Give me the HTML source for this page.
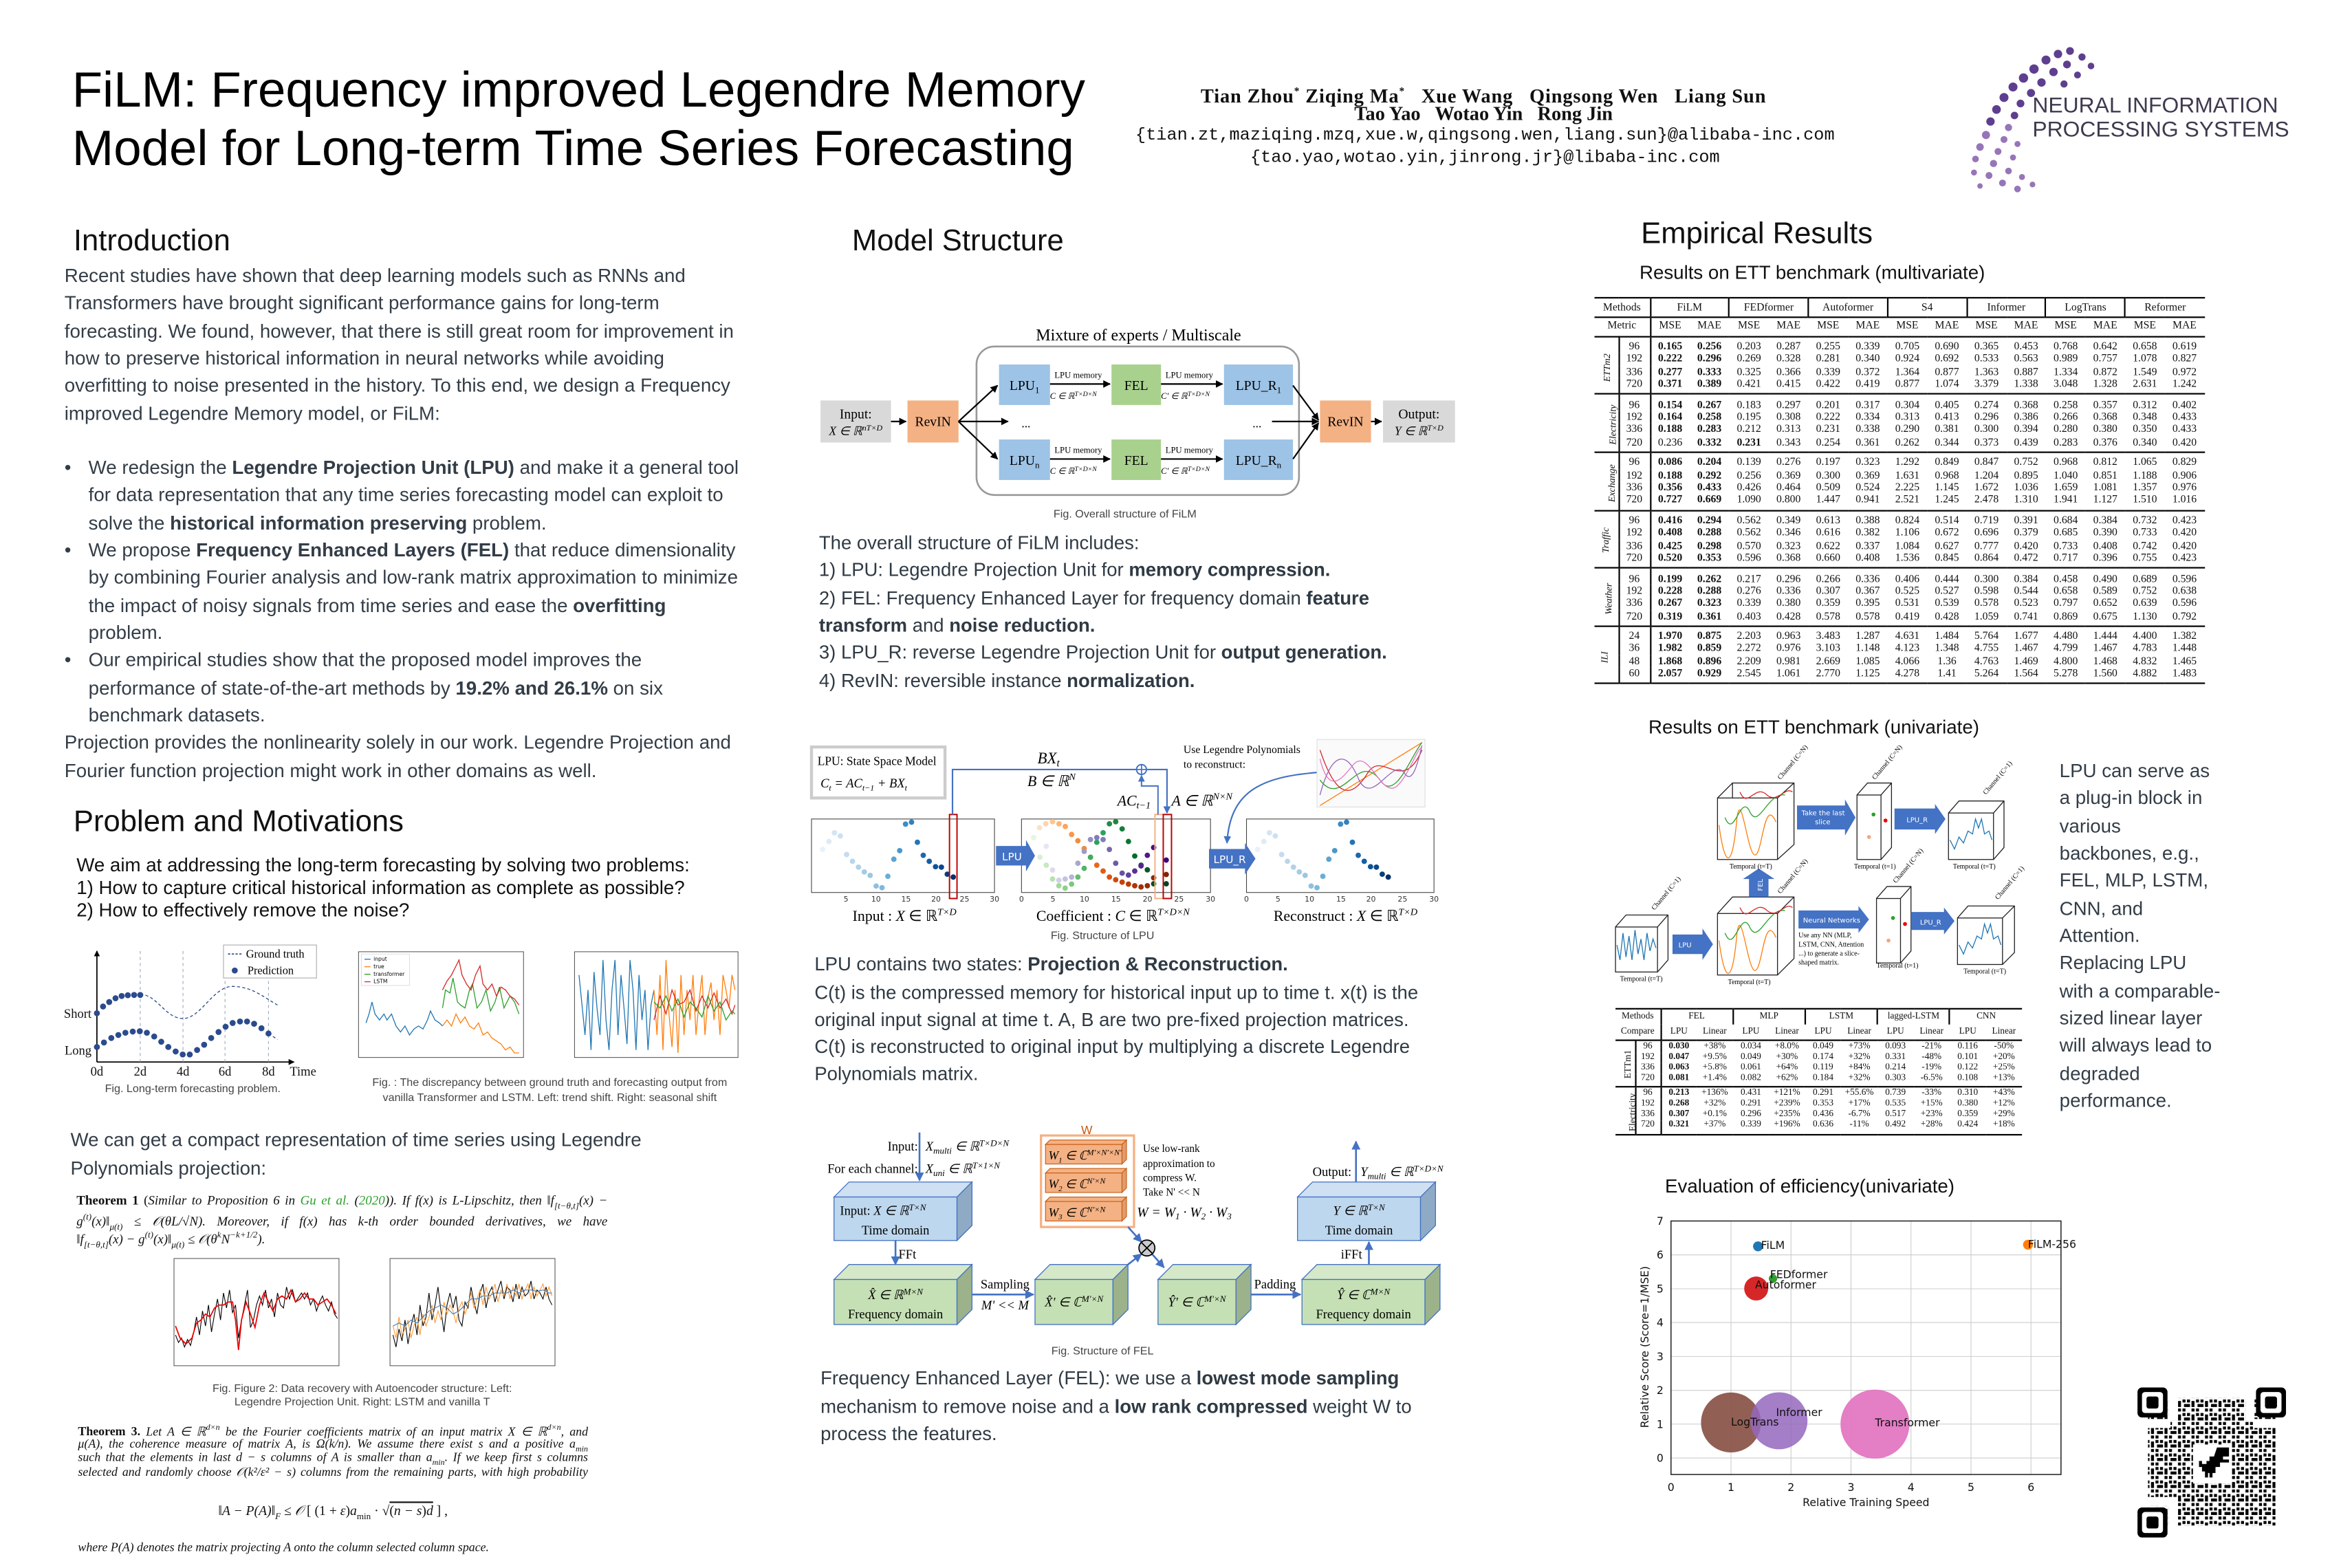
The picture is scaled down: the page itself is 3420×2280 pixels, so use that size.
<!DOCTYPE html>
<html><head><meta charset="utf-8">
<style>
html,body{margin:0;padding:0;background:#fff;}
body{width:3420px;height:2280px;overflow:hidden;position:relative;}
#c{position:absolute;left:0;top:0;width:1568px;height:1045.3px;transform:scale(2.18112);transform-origin:0 0;font-family:"Liberation Sans",Arial,sans-serif;color:#333d47;}
.a{position:absolute;white-space:nowrap;}
.t{font-size:12.7px;line-height:16px;}
.m{font-size:12.6px;line-height:16px;color:#2f3a44;}
.h{font-size:20px;line-height:24px;color:#111;}
.s{font-family:"Liberation Serif",serif;}
.cap{font-size:7.4px;line-height:9px;color:#444;text-align:center;}
table{border-collapse:collapse;font-family:"Liberation Serif",serif;color:#111;}
#mt{position:absolute;left:1063px;top:197.5px;width:406.6px;table-layout:fixed;font-size:7.2px;}
#mt td{padding:0;text-align:center;height:8.33px;line-height:8.33px;white-space:nowrap;overflow:hidden;}
#mt tr.h1 td{height:12.5px;line-height:12.5px;}
#mt tr.h2 td{height:11.8px;line-height:11.8px;}
#mt tr.f td{padding-top:2.3px;}
#mt tr.l td{padding-bottom:2px;}
#mt .g{border-top:0.8px solid #000;}
#mt .vr{border-right:0.7px solid #000;}
#mt .lb{font-style:italic;font-size:6.4px;}
.rot{display:inline-block;transform:rotate(-90deg);white-space:nowrap;}
#st{position:absolute;left:1077px;top:671.5px;width:271px;table-layout:fixed;font-size:6.1px;}
#st td{padding:0;text-align:center;height:7px;line-height:7px;white-space:nowrap;overflow:hidden;}
#st tr.h1 td,#st tr.h2 td{height:10px;line-height:10px;}
#st tr.f td{padding-top:1.3px;}
#st tr.l td{padding-bottom:1.3px;}
#st .g{border-top:0.7px solid #000;}
#st .vr{border-right:0.6px solid #000;}
.th{font-family:"Liberation Serif",serif;font-size:8.7px;line-height:12.2px;color:#111;width:354px;text-align:justify;text-align-last:justify;}
</style></head><body><div id="c">

<!-- Header -->
<div class="a" style="left:48px;top:44px;font-size:33.3px;line-height:34px;color:#000;">FiLM: Frequency improved Legendre Memory</div>
<div class="a" style="left:48px;top:82.5px;font-size:33.3px;line-height:34px;color:#000;">Model for Long-term Time Series Forecasting</div>
<div class="a s" style="left:789px;width:400px;text-align:center;top:53px;font-size:13px;line-height:16px;font-weight:bold;color:#111;letter-spacing:0.4px;">Tian Zhou<sup style="font-size:7px">*</sup> Ziqing Ma<sup style="font-size:7px">*</sup> &nbsp; Xue Wang &nbsp; Qingsong Wen &nbsp; Liang Sun</div>
<div class="a s" style="left:789px;width:400px;text-align:center;top:68px;font-size:13px;line-height:16px;font-weight:bold;color:#111;">Tao Yao &nbsp; Wotao Yin &nbsp; Rong Jin</div>
<div class="a" style="left:740px;width:500px;text-align:center;top:83px;font-family:'Liberation Mono',monospace;font-size:11.6px;line-height:16px;color:#111;">{tian.zt,maziqing.mzq,xue.w,qingsong.wen,liang.sun}@alibaba-inc.com</div>
<div class="a" style="left:740px;width:500px;text-align:center;top:98px;font-family:'Liberation Mono',monospace;font-size:11.6px;line-height:16px;color:#111;">{tao.yao,wotao.yin,jinrong.jr}@libaba-inc.com</div>
<div class="a" style="left:1355px;top:63px;font-size:14.6px;line-height:16px;color:#3f3a4f;">NEURAL INFORMATION</div>
<div class="a" style="left:1355px;top:79px;font-size:14.6px;line-height:16px;color:#3f3a4f;">PROCESSING SYSTEMS</div>

<!-- Intro -->
<div class="a h" style="left:49px;top:149px;">Introduction</div>
<div class="a t" style="left:43px;top:176px;">Recent studies have shown that deep learning models such as RNNs and</div>
<div class="a t" style="left:43px;top:194.4px;">Transformers have brought significant performance gains for long-term</div>
<div class="a t" style="left:43px;top:212.7px;">forecasting. We found, however, that there is still great room for improvement in</div>
<div class="a t" style="left:43px;top:231px;">how to preserve historical information in neural networks while avoiding</div>
<div class="a t" style="left:43px;top:249.4px;">overfitting to noise presented in the history. To this end, we design a Frequency</div>
<div class="a t" style="left:43px;top:267.7px;">improved Legendre Memory model, or FiLM:</div>
<div class="a t" style="left:43px;top:304px;">•</div>
<div class="a t" style="left:59px;top:304px;">We redesign the <b>Legendre Projection Unit (LPU)</b> and make it a general tool</div>
<div class="a t" style="left:59px;top:322.4px;">for data representation that any time series forecasting model can exploit to</div>
<div class="a t" style="left:59px;top:340.7px;">solve the <b>historical information preserving</b> problem.</div>
<div class="a t" style="left:43px;top:359px;">•</div>
<div class="a t" style="left:59px;top:359px;">We propose <b>Frequency Enhanced Layers (FEL)</b> that reduce dimensionality</div>
<div class="a t" style="left:59px;top:377.4px;">by combining Fourier analysis and low-rank matrix approximation to minimize</div>
<div class="a t" style="left:59px;top:395.7px;">the impact of noisy signals from time series and ease the <b>overfitting</b></div>
<div class="a t" style="left:59px;top:414px;">problem.</div>
<div class="a t" style="left:43px;top:432.4px;">•</div>
<div class="a t" style="left:59px;top:432.4px;">Our empirical studies show that the proposed model improves the</div>
<div class="a t" style="left:59px;top:450.7px;">performance of state-of-the-art methods by <b>19.2% and 26.1%</b> on six</div>
<div class="a t" style="left:59px;top:469px;">benchmark datasets.</div>
<div class="a t" style="left:43px;top:487.4px;">Projection provides the nonlinearity solely in our work. Legendre Projection and</div>
<div class="a t" style="left:43px;top:505.7px;">Fourier function projection might work in other domains as well.</div>

<div class="a h" style="left:49px;top:536px;">Problem and Motivations</div>
<div class="a t" style="left:51px;top:569px;color:#111;">We aim at addressing the long-term forecasting by solving two problems:</div>
<div class="a t" style="left:51px;top:584px;color:#111;">1) How to capture critical historical information as complete as possible?</div>
<div class="a t" style="left:51px;top:599px;color:#111;">2) How to effectively remove the noise?</div>
<div class="a cap" style="left:60px;width:137px;top:721px;">Fig. Long-term forecasting problem.</div>
<div class="a cap" style="left:230px;width:273px;top:717px;">Fig. : The discrepancy between ground truth and forecasting output from</div>
<div class="a cap" style="left:230px;width:273px;top:726.5px;">vanilla Transformer and LSTM. Left: trend shift. Right: seasonal shift</div>
<div class="a t" style="left:47px;top:752px;">We can get a compact representation of time series using Legendre</div>
<div class="a t" style="left:47px;top:770.5px;">Polynomials projection:</div>
<div class="a th" style="left:51px;top:794.3px;"><b>Theorem 1</b> (<i>Similar to Proposition 6 in <span style="color:#2ca02c">Gu et al.</span> (<span style="color:#2ca02c">2020</span>)). If f(x) is L-Lipschitz, then ‖f<sub style="font-size:6px">[t−θ,t]</sub>(x) −</i></div>
<div class="a th" style="left:51px;top:806.4px;"><i>g<sup style="font-size:6px">(t)</sup>(x)‖<sub style="font-size:6px">μ(t)</sub> ≤ 𝒪(θL/√N). Moreover, if f(x) has k-th order bounded derivatives, we have</i></div>
<div class="a th" style="left:51px;top:818.6px;text-align-last:left;"><i>‖f<sub style="font-size:6px">[t−θ,t]</sub>(x) − g<sup style="font-size:6px">(t)</sup>(x)‖<sub style="font-size:6px">μ(t)</sub> ≤ 𝒪(θ<sup style="font-size:6px">k</sup>N<sup style="font-size:6px">−k+1/2</sup>).</i></div>
<div class="a cap" style="left:120px;width:243px;top:920.5px;">Fig. Figure 2: Data recovery with Autoencoder structure: Left:</div>
<div class="a cap" style="left:120px;width:243px;top:929.5px;">Legendre Projection Unit. Right: LSTM and vanilla T</div>
<div class="a th" style="left:52px;top:948px;width:340px;font-size:8.2px;line-height:9.5px;"><b>Theorem 3.</b> <i>Let A ∈ ℝ<sup style="font-size:5.5px">d×n</sup> be the Fourier coefficients matrix of an input matrix X ∈ ℝ<sup style="font-size:5.5px">d×n</sup>, and</i></div>
<div class="a th" style="left:52px;top:957.5px;width:340px;font-size:8.2px;line-height:9.5px;"><i>μ(A), the coherence measure of matrix A, is Ω(k/n). We assume there exist s and a positive a<sub style="font-size:5.5px">min</sub></i></div>
<div class="a th" style="left:52px;top:967px;width:340px;font-size:8.2px;line-height:9.5px;"><i>such that the elements in last d − s columns of A is smaller than a<sub style="font-size:5.5px">min</sub>. If we keep first s columns</i></div>
<div class="a th" style="left:52px;top:976.5px;width:340px;font-size:8.2px;line-height:9.5px;"><i>selected and randomly choose 𝒪(k²/ε² − s) columns from the remaining parts, with high probability</i></div>
<div class="a s" style="left:132px;width:180px;text-align:center;top:1001px;font-size:9px;line-height:12px;color:#111;"><i>‖A − P(A)‖<sub style="font-size:6px">F</sub> ≤ 𝒪</i> [ (1 + <i>ε</i>)<i>a</i><sub style="font-size:6px">min</sub> · √<span style="text-decoration:overline">(<i>n − s</i>)<i>d</i></span> ] ,</div>
<div class="a s" style="left:52px;top:1026px;font-size:8.2px;line-height:11px;color:#111;"><i>where P(A) denotes the matrix projecting A onto the column selected column space.</i></div>

<!-- Middle -->
<div class="a h" style="left:568px;top:149px;">Model Structure</div>
<div class="a cap" style="left:680px;width:140px;top:337.5px;">Fig. Overall structure of FiLM</div>
<div class="a m" style="left:546px;top:354px;">The overall structure of FiLM includes:</div>
<div class="a m" style="left:546px;top:372.3px;">1) LPU: Legendre Projection Unit for <b>memory compression.</b></div>
<div class="a m" style="left:546px;top:390.6px;">2) FEL: Frequency Enhanced Layer for frequency domain <b>feature</b></div>
<div class="a m" style="left:546px;top:409px;"><b>transform</b> and <b>noise reduction.</b></div>
<div class="a m" style="left:546px;top:427.3px;">3) LPU_R: reverse Legendre Projection Unit for <b>output generation.</b></div>
<div class="a m" style="left:546px;top:445.6px;">4) RevIN: reversible instance <b>normalization.</b></div>
<div class="a cap" style="left:670px;width:130px;top:618.5px;">Fig. Structure of LPU</div>
<div class="a m" style="left:543px;top:635px;">LPU contains two states: <b>Projection &amp; Reconstruction.</b></div>
<div class="a m" style="left:543px;top:653.5px;">C(t) is the compressed memory for historical input up to time t. x(t) is the</div>
<div class="a m" style="left:543px;top:672px;">original input signal at time t. A, B are two pre-fixed projection matrices.</div>
<div class="a m" style="left:543px;top:690px;">C(t) is reconstructed to original input by multiplying a discrete Legendre</div>
<div class="a m" style="left:543px;top:708px;">Polynomials matrix.</div>
<div class="a cap" style="left:670px;width:130px;top:895.5px;">Fig. Structure of FEL</div>
<div class="a m" style="left:547px;top:911px;">Frequency Enhanced Layer (FEL): we use a <b>lowest mode sampling</b></div>
<div class="a m" style="left:547px;top:929.5px;">mechanism to remove noise and a <b>low rank compressed</b> weight W to</div>
<div class="a m" style="left:547px;top:948px;">process the features.</div>

<!-- Right -->
<div class="a h" style="left:1094px;top:144px;">Empirical Results</div>
<div class="a t" style="left:1093px;top:174px;color:#111;">Results on ETT benchmark (multivariate)</div>
<div class="a t" style="left:1099px;top:477px;color:#111;">Results on ETT benchmark (univariate)</div>
<div class="a t" style="left:1110px;top:783px;color:#111;">Evaluation of efficiency(univariate)</div>
<div class="a t" style="left:1373px;top:506px;">LPU can serve as</div>
<div class="a t" style="left:1373px;top:524.3px;">a plug-in block in</div>
<div class="a t" style="left:1373px;top:542.6px;">various</div>
<div class="a t" style="left:1373px;top:561px;">backbones, e.g.,</div>
<div class="a t" style="left:1373px;top:579.3px;">FEL, MLP, LSTM,</div>
<div class="a t" style="left:1373px;top:597.6px;">CNN, and</div>
<div class="a t" style="left:1373px;top:616px;">Attention.</div>
<div class="a t" style="left:1373px;top:634.3px;">Replacing LPU</div>
<div class="a t" style="left:1373px;top:652.6px;">with a comparable-</div>
<div class="a t" style="left:1373px;top:671px;">sized linear layer</div>
<div class="a t" style="left:1373px;top:689.3px;">will always lead to</div>
<div class="a t" style="left:1373px;top:707.6px;">degraded</div>
<div class="a t" style="left:1373px;top:726px;">performance.</div>

<table id="mt">
<colgroup><col style="width:16px"><col style="width:21px"><col span="14" style="width:26.4px"></colgroup>
<tr class="h1" style="border-top:1.3px solid #000"><td colspan="2" class="vr">Methods</td><td colspan="2" class="vr">FiLM</td><td colspan="2" class="vr">FEDformer</td><td colspan="2" class="vr">Autoformer</td><td colspan="2" class="vr">S4</td><td colspan="2" class="vr">Informer</td><td colspan="2" class="vr">LogTrans</td><td colspan="2">Reformer</td></tr>
<tr class="h2 g"><td colspan="2" class="vr g">Metric</td><td class="g">MSE</td><td class="g">MAE</td><td class="g">MSE</td><td class="g">MAE</td><td class="g">MSE</td><td class="g">MAE</td><td class="g">MSE</td><td class="g">MAE</td><td class="g">MSE</td><td class="g">MAE</td><td class="g">MSE</td><td class="g">MAE</td><td class="g">MSE</td><td class="g">MAE</td></tr>
<tr class="f"><td rowspan="4" class="vr g lb"><span class="rot">ETTm2</span></td><td class="vr g">96</td><td class="g"><b>0.165</b></td><td class="g"><b>0.256</b></td><td class="g">0.203</td><td class="g">0.287</td><td class="g">0.255</td><td class="g">0.339</td><td class="g">0.705</td><td class="g">0.690</td><td class="g">0.365</td><td class="g">0.453</td><td class="g">0.768</td><td class="g">0.642</td><td class="g">0.658</td><td class="g">0.619</td></tr>
<tr><td class="vr">192</td><td><b>0.222</b></td><td><b>0.296</b></td><td>0.269</td><td>0.328</td><td>0.281</td><td>0.340</td><td>0.924</td><td>0.692</td><td>0.533</td><td>0.563</td><td>0.989</td><td>0.757</td><td>1.078</td><td>0.827</td></tr>
<tr><td class="vr">336</td><td><b>0.277</b></td><td><b>0.333</b></td><td>0.325</td><td>0.366</td><td>0.339</td><td>0.372</td><td>1.364</td><td>0.877</td><td>1.363</td><td>0.887</td><td>1.334</td><td>0.872</td><td>1.549</td><td>0.972</td></tr>
<tr class="l"><td class="vr">720</td><td><b>0.371</b></td><td><b>0.389</b></td><td>0.421</td><td>0.415</td><td>0.422</td><td>0.419</td><td>0.877</td><td>1.074</td><td>3.379</td><td>1.338</td><td>3.048</td><td>1.328</td><td>2.631</td><td>1.242</td></tr>
<tr class="f"><td rowspan="4" class="vr g lb"><span class="rot">Electricity</span></td><td class="vr g">96</td><td class="g"><b>0.154</b></td><td class="g"><b>0.267</b></td><td class="g">0.183</td><td class="g">0.297</td><td class="g">0.201</td><td class="g">0.317</td><td class="g">0.304</td><td class="g">0.405</td><td class="g">0.274</td><td class="g">0.368</td><td class="g">0.258</td><td class="g">0.357</td><td class="g">0.312</td><td class="g">0.402</td></tr>
<tr><td class="vr">192</td><td><b>0.164</b></td><td><b>0.258</b></td><td>0.195</td><td>0.308</td><td>0.222</td><td>0.334</td><td>0.313</td><td>0.413</td><td>0.296</td><td>0.386</td><td>0.266</td><td>0.368</td><td>0.348</td><td>0.433</td></tr>
<tr><td class="vr">336</td><td><b>0.188</b></td><td><b>0.283</b></td><td>0.212</td><td>0.313</td><td>0.231</td><td>0.338</td><td>0.290</td><td>0.381</td><td>0.300</td><td>0.394</td><td>0.280</td><td>0.380</td><td>0.350</td><td>0.433</td></tr>
<tr class="l"><td class="vr">720</td><td>0.236</td><td><b>0.332</b></td><td><b>0.231</b></td><td>0.343</td><td>0.254</td><td>0.361</td><td>0.262</td><td>0.344</td><td>0.373</td><td>0.439</td><td>0.283</td><td>0.376</td><td>0.340</td><td>0.420</td></tr>
<tr class="f"><td rowspan="4" class="vr g lb"><span class="rot">Exchange</span></td><td class="vr g">96</td><td class="g"><b>0.086</b></td><td class="g"><b>0.204</b></td><td class="g">0.139</td><td class="g">0.276</td><td class="g">0.197</td><td class="g">0.323</td><td class="g">1.292</td><td class="g">0.849</td><td class="g">0.847</td><td class="g">0.752</td><td class="g">0.968</td><td class="g">0.812</td><td class="g">1.065</td><td class="g">0.829</td></tr>
<tr><td class="vr">192</td><td><b>0.188</b></td><td><b>0.292</b></td><td>0.256</td><td>0.369</td><td>0.300</td><td>0.369</td><td>1.631</td><td>0.968</td><td>1.204</td><td>0.895</td><td>1.040</td><td>0.851</td><td>1.188</td><td>0.906</td></tr>
<tr><td class="vr">336</td><td><b>0.356</b></td><td><b>0.433</b></td><td>0.426</td><td>0.464</td><td>0.509</td><td>0.524</td><td>2.225</td><td>1.145</td><td>1.672</td><td>1.036</td><td>1.659</td><td>1.081</td><td>1.357</td><td>0.976</td></tr>
<tr class="l"><td class="vr">720</td><td><b>0.727</b></td><td><b>0.669</b></td><td>1.090</td><td>0.800</td><td>1.447</td><td>0.941</td><td>2.521</td><td>1.245</td><td>2.478</td><td>1.310</td><td>1.941</td><td>1.127</td><td>1.510</td><td>1.016</td></tr>
<tr class="f"><td rowspan="4" class="vr g lb"><span class="rot">Traffic</span></td><td class="vr g">96</td><td class="g"><b>0.416</b></td><td class="g"><b>0.294</b></td><td class="g">0.562</td><td class="g">0.349</td><td class="g">0.613</td><td class="g">0.388</td><td class="g">0.824</td><td class="g">0.514</td><td class="g">0.719</td><td class="g">0.391</td><td class="g">0.684</td><td class="g">0.384</td><td class="g">0.732</td><td class="g">0.423</td></tr>
<tr><td class="vr">192</td><td><b>0.408</b></td><td><b>0.288</b></td><td>0.562</td><td>0.346</td><td>0.616</td><td>0.382</td><td>1.106</td><td>0.672</td><td>0.696</td><td>0.379</td><td>0.685</td><td>0.390</td><td>0.733</td><td>0.420</td></tr>
<tr><td class="vr">336</td><td><b>0.425</b></td><td><b>0.298</b></td><td>0.570</td><td>0.323</td><td>0.622</td><td>0.337</td><td>1.084</td><td>0.627</td><td>0.777</td><td>0.420</td><td>0.733</td><td>0.408</td><td>0.742</td><td>0.420</td></tr>
<tr class="l"><td class="vr">720</td><td><b>0.520</b></td><td><b>0.353</b></td><td>0.596</td><td>0.368</td><td>0.660</td><td>0.408</td><td>1.536</td><td>0.845</td><td>0.864</td><td>0.472</td><td>0.717</td><td>0.396</td><td>0.755</td><td>0.423</td></tr>
<tr class="f"><td rowspan="4" class="vr g lb"><span class="rot">Weather</span></td><td class="vr g">96</td><td class="g"><b>0.199</b></td><td class="g"><b>0.262</b></td><td class="g">0.217</td><td class="g">0.296</td><td class="g">0.266</td><td class="g">0.336</td><td class="g">0.406</td><td class="g">0.444</td><td class="g">0.300</td><td class="g">0.384</td><td class="g">0.458</td><td class="g">0.490</td><td class="g">0.689</td><td class="g">0.596</td></tr>
<tr><td class="vr">192</td><td><b>0.228</b></td><td><b>0.288</b></td><td>0.276</td><td>0.336</td><td>0.307</td><td>0.367</td><td>0.525</td><td>0.527</td><td>0.598</td><td>0.544</td><td>0.658</td><td>0.589</td><td>0.752</td><td>0.638</td></tr>
<tr><td class="vr">336</td><td><b>0.267</b></td><td><b>0.323</b></td><td>0.339</td><td>0.380</td><td>0.359</td><td>0.395</td><td>0.531</td><td>0.539</td><td>0.578</td><td>0.523</td><td>0.797</td><td>0.652</td><td>0.639</td><td>0.596</td></tr>
<tr class="l"><td class="vr">720</td><td><b>0.319</b></td><td><b>0.361</b></td><td>0.403</td><td>0.428</td><td>0.578</td><td>0.578</td><td>0.419</td><td>0.428</td><td>1.059</td><td>0.741</td><td>0.869</td><td>0.675</td><td>1.130</td><td>0.792</td></tr>
<tr class="f"><td rowspan="4" class="vr g lb"><span class="rot">ILI</span></td><td class="vr g">24</td><td class="g"><b>1.970</b></td><td class="g"><b>0.875</b></td><td class="g">2.203</td><td class="g">0.963</td><td class="g">3.483</td><td class="g">1.287</td><td class="g">4.631</td><td class="g">1.484</td><td class="g">5.764</td><td class="g">1.677</td><td class="g">4.480</td><td class="g">1.444</td><td class="g">4.400</td><td class="g">1.382</td></tr>
<tr><td class="vr">36</td><td><b>1.982</b></td><td><b>0.859</b></td><td>2.272</td><td>0.976</td><td>3.103</td><td>1.148</td><td>4.123</td><td>1.348</td><td>4.755</td><td>1.467</td><td>4.799</td><td>1.467</td><td>4.783</td><td>1.448</td></tr>
<tr><td class="vr">48</td><td><b>1.868</b></td><td><b>0.896</b></td><td>2.209</td><td>0.981</td><td>2.669</td><td>1.085</td><td>4.066</td><td>1.36</td><td>4.763</td><td>1.469</td><td>4.800</td><td>1.468</td><td>4.832</td><td>1.465</td></tr>
<tr class="l" style="border-bottom:1.3px solid #000"><td class="vr">60</td><td><b>2.057</b></td><td><b>0.929</b></td><td>2.545</td><td>1.061</td><td>2.770</td><td>1.125</td><td>4.278</td><td>1.41</td><td>5.264</td><td>1.564</td><td>5.278</td><td>1.560</td><td>4.882</td><td>1.483</td></tr>
</table>

<table id="st">
<colgroup><col style="width:13px"><col style="width:17px"><col span="10" style="width:24.1px"></colgroup>
<tr class="h1" style="border-top:1px solid #000"><td colspan="2" class="vr">Methods</td><td colspan="2" class="vr">FEL</td><td colspan="2" class="vr">MLP</td><td colspan="2" class="vr">LSTM</td><td colspan="2" class="vr">lagged-LSTM</td><td colspan="2">CNN</td></tr>
<tr class="h2"><td colspan="2" class="vr">Compare</td><td>LPU</td><td>Linear</td><td>LPU</td><td>Linear</td><td>LPU</td><td>Linear</td><td>LPU</td><td>Linear</td><td>LPU</td><td>Linear</td></tr>
<tr class="f"><td rowspan="4" class="vr g"><span class="rot">ETTm1</span></td><td class="vr g">96</td><td class="g"><b>0.030</b></td><td class="g">+38%</td><td class="g">0.034</td><td class="g">+8.0%</td><td class="g">0.049</td><td class="g">+73%</td><td class="g">0.093</td><td class="g">-21%</td><td class="g">0.116</td><td class="g">-50%</td></tr>
<tr><td class="vr">192</td><td><b>0.047</b></td><td>+9.5%</td><td>0.049</td><td>+30%</td><td>0.174</td><td>+32%</td><td>0.331</td><td>-48%</td><td>0.101</td><td>+20%</td></tr>
<tr><td class="vr">336</td><td><b>0.063</b></td><td>+5.8%</td><td>0.061</td><td>+64%</td><td>0.119</td><td>+84%</td><td>0.214</td><td>-19%</td><td>0.122</td><td>+25%</td></tr>
<tr class="l"><td class="vr">720</td><td><b>0.081</b></td><td>+1.4%</td><td>0.082</td><td>+62%</td><td>0.184</td><td>+32%</td><td>0.303</td><td>-6.5%</td><td>0.108</td><td>+13%</td></tr>
<tr class="f"><td rowspan="4" class="vr g"><span class="rot">Electricity</span></td><td class="vr g">96</td><td class="g"><b>0.213</b></td><td class="g">+136%</td><td class="g">0.431</td><td class="g">+121%</td><td class="g">0.291</td><td class="g">+55.6%</td><td class="g">0.739</td><td class="g">-33%</td><td class="g">0.310</td><td class="g">+43%</td></tr>
<tr><td class="vr">192</td><td><b>0.268</b></td><td>+32%</td><td>0.291</td><td>+239%</td><td>0.353</td><td>+17%</td><td>0.535</td><td>+15%</td><td>0.380</td><td>+12%</td></tr>
<tr><td class="vr">336</td><td><b>0.307</b></td><td>+0.1%</td><td>0.296</td><td>+235%</td><td>0.436</td><td>-6.7%</td><td>0.517</td><td>+23%</td><td>0.359</td><td>+29%</td></tr>
<tr class="l" style="border-bottom:1px solid #000"><td class="vr">720</td><td><b>0.321</b></td><td>+37%</td><td>0.339</td><td>+196%</td><td>0.636</td><td>-11%</td><td>0.492</td><td>+28%</td><td>0.424</td><td>+18%</td></tr>
</table>

<svg class="a" style="left:0;top:0" width="1568" height="1045.3" viewBox="0 0 1568 1045.3" font-family="Liberation Serif, serif">
<defs>
<marker id="ar" viewBox="0 0 10 10" refX="9" refY="5" markerWidth="5" markerHeight="5" orient="auto"><path d="M0,0L10,5L0,10z" fill="#4472c4"/></marker>
<marker id="ak" viewBox="0 0 10 10" refX="9" refY="5" markerWidth="5" markerHeight="5" orient="auto"><path d="M0,0L10,5L0,10z" fill="#000"/></marker>
<pattern id="qr" width="9" height="9" patternUnits="userSpaceOnUse"><rect x="0" y="0" width="2" height="2"/><rect x="3" y="0" width="2" height="2"/><rect x="6" y="3" width="2" height="2"/><rect x="0" y="6" width="2" height="2"/><rect x="3" y="3" width="2" height="2"/><rect x="6" y="6" width="2" height="2"/><rect x="3" y="7" width="2" height="2"/><rect x="7" y="0" width="2" height="2"/></pattern>
</defs>

<!-- NeurIPS logo dots -->
<g fill="#5e3f8f">
<circle cx="1380" cy="34" r="2.6"/><circle cx="1372" cy="36" r="2.8"/><circle cx="1388" cy="38" r="2.4"/><circle cx="1364" cy="40" r="3"/><circle cx="1378" cy="43" r="2.6"/><circle cx="1394" cy="44" r="2.2"/><circle cx="1356" cy="46" r="3.1"/><circle cx="1369" cy="48" r="2.8"/><circle cx="1385" cy="50" r="2.3"/><circle cx="1349" cy="52" r="3.1"/><circle cx="1361" cy="55" r="2.8"/><circle cx="1376" cy="56" r="2.4"/><circle cx="1342" cy="58" r="3"/><circle cx="1354" cy="62" r="2.7"/><circle cx="1336" cy="65" r="3"/><circle cx="1347" cy="69" r="2.6"/><circle cx="1331" cy="73" r="2.9"/><circle cx="1343" cy="77" r="2.5"/><circle cx="1327" cy="81" r="2.8"/>
</g>
<g fill="#9675b8">
<circle cx="1339" cy="85" r="2.4"/><circle cx="1324" cy="90" r="2.7"/><circle cx="1336" cy="93" r="2.3"/><circle cx="1320" cy="98" r="2.5"/><circle cx="1332" cy="101" r="2.3"/><circle cx="1345" cy="96" r="2"/><circle cx="1317" cy="106" r="2.2"/><circle cx="1329" cy="109" r="2.4"/><circle cx="1342" cy="105" r="2"/><circle cx="1326" cy="117" r="2.3"/><circle cx="1339" cy="114" r="2.2"/><circle cx="1316" cy="115" r="2"/><circle cx="1335" cy="122" r="2.3"/><circle cx="1348" cy="118" r="2"/><circle cx="1345" cy="126" r="2.2"/><circle cx="1355" cy="123" r="1.9"/><circle cx="1320" cy="124" r="1.8"/>
</g>

<!-- Model structure diagram -->
<text x="759" y="227" font-size="11" text-anchor="middle">Mixture of experts / Multiscale</text>
<rect x="651" y="231" width="215" height="99" rx="12" fill="none" stroke="#999" stroke-width="1.2"/>
<rect x="547" y="267" width="47" height="28" fill="#d9d9d9"/>
<text x="570.5" y="279" font-size="9" text-anchor="middle">Input:</text>
<text x="570.5" y="290" font-size="8" text-anchor="middle" font-style="italic">X ∈ ℝ<tspan font-size="5.5" dy="-3">nT×D</tspan></text>
<rect x="605" y="267" width="34" height="28" fill="#f4b183"/>
<text x="622" y="284" font-size="9" text-anchor="middle">RevIN</text>
<rect x="880" y="267" width="34" height="28" fill="#f4b183"/>
<text x="897" y="284" font-size="9" text-anchor="middle">RevIN</text>
<rect x="922" y="267" width="48" height="28" fill="#d9d9d9"/>
<text x="946" y="279" font-size="9" text-anchor="middle">Output:</text>
<text x="946" y="290" font-size="8" text-anchor="middle" font-style="italic">Y ∈ ℝ<tspan font-size="5.5" dy="-3">T×D</tspan></text>
<g font-size="9" text-anchor="middle">
<rect x="666" y="243" width="34" height="27" fill="#9dc3e6"/><text x="683" y="260">LPU<tspan font-size="6" dy="2">1</tspan></text>
<rect x="741" y="243" width="33" height="27" fill="#a9d18e"/><text x="757.5" y="260">FEL</text>
<rect x="816" y="243" width="46" height="27" fill="#9dc3e6"/><text x="839" y="260">LPU_R<tspan font-size="6" dy="2">1</tspan></text>
<rect x="666" y="293" width="34" height="27" fill="#9dc3e6"/><text x="683" y="310">LPU<tspan font-size="6" dy="2">n</tspan></text>
<rect x="741" y="293" width="33" height="27" fill="#a9d18e"/><text x="757.5" y="310">FEL</text>
<rect x="816" y="293" width="46" height="27" fill="#9dc3e6"/><text x="839" y="310">LPU_R<tspan font-size="6" dy="2">n</tspan></text>
</g>
<g stroke="#000" stroke-width="1" marker-end="url(#ak)">
<line x1="594" y1="281" x2="604" y2="281"/>
<line x1="639" y1="281" x2="665" y2="257"/><line x1="639" y1="281" x2="665" y2="306"/><line x1="639" y1="281" x2="672" y2="281"/>
<line x1="700" y1="256" x2="740" y2="256"/><line x1="774" y1="256" x2="815" y2="256"/>
<line x1="700" y1="306" x2="740" y2="306"/><line x1="774" y1="306" x2="815" y2="306"/>
<line x1="862" y1="257" x2="879" y2="280"/><line x1="862" y1="306" x2="879" y2="282"/><line x1="848" y1="281" x2="879" y2="281"/>
<line x1="914" y1="281" x2="921" y2="281"/>
</g>
<g font-size="5.8">
<text x="703" y="252">LPU memory</text><text x="700" y="266" font-style="italic">C ∈ ℝ<tspan font-size="4.5" dy="-2">T×D×N</tspan></text>
<text x="777" y="252">LPU memory</text><text x="774" y="266" font-style="italic">C′ ∈ ℝ<tspan font-size="4.5" dy="-2">T×D×N</tspan></text>
<text x="703" y="302">LPU memory</text><text x="700" y="316" font-style="italic">C ∈ ℝ<tspan font-size="4.5" dy="-2">T×D×N</tspan></text>
<text x="777" y="302">LPU memory</text><text x="774" y="316" font-style="italic">C′ ∈ ℝ<tspan font-size="4.5" dy="-2">T×D×N</tspan></text>
</g>
<text x="681" y="285" font-size="8">...</text><text x="835" y="285" font-size="8">...</text>

<!-- LPU figure -->
<rect x="541" y="498" width="89" height="34" fill="#fff" stroke="#ccc" stroke-width="2"/>
<text x="545" y="510" font-size="8">LPU: State Space Model</text>
<text x="547" y="525" font-size="8.5" font-style="italic">C<tspan font-size="5.5" dy="2">t</tspan><tspan dy="-2"> = AC</tspan><tspan font-size="5.5" dy="2">t−1</tspan><tspan dy="-2"> + BX</tspan><tspan font-size="5.5" dy="2">t</tspan></text>
<g fill="none" stroke="#444" stroke-width="0.5">
<rect x="541" y="546" width="122" height="49"/><rect x="681" y="546" width="126" height="49"/><rect x="831" y="546" width="125" height="49"/>
</g>
<g font-size="5" fill="#333" text-anchor="middle" font-family="DejaVu Sans, sans-serif">
<text x="564" y="601">5</text><text x="584" y="601">10</text><text x="604" y="601">15</text><text x="624" y="601">20</text><text x="643" y="601">25</text><text x="663" y="601">30</text>
<text x="681" y="601">0</text><text x="702" y="601">5</text><text x="723" y="601">10</text><text x="744" y="601">15</text><text x="765" y="601">20</text><text x="786" y="601">25</text><text x="807" y="601">30</text>
<text x="831" y="601">0</text><text x="852" y="601">5</text><text x="873" y="601">10</text><text x="894" y="601">15</text><text x="914" y="601">20</text><text x="935" y="601">25</text><text x="956" y="601">30</text>
</g>
<g id="d1">
<circle cx="548.4" cy="566.3" r="1.8" fill="#e8f1fa"/><circle cx="552.6" cy="561" r="1.8" fill="#deebf7"/><circle cx="556.3" cy="555.2" r="1.8" fill="#d4e5f4"/><circle cx="560.2" cy="557.3" r="1.8" fill="#cbe0f2"/><circle cx="564.4" cy="569.7" r="1.8" fill="#c6dbef"/><circle cx="568.3" cy="574.2" r="1.8" fill="#bad6eb"/><circle cx="572.3" cy="578.1" r="1.8" fill="#b0d2e8"/><circle cx="576.2" cy="581.3" r="1.8" fill="#a4cce3"/><circle cx="580.1" cy="583.6" r="1.8" fill="#9ac8e0"/><circle cx="584.1" cy="590.7" r="1.8" fill="#8dc1dd"/><circle cx="588" cy="591.8" r="1.8" fill="#7fb9da"/><circle cx="591.9" cy="584.2" r="1.8" fill="#6aaed6"/><circle cx="595.9" cy="572.8" r="1.8" fill="#5ba3d0"/><circle cx="599.8" cy="567.1" r="1.8" fill="#4a98c9"/><circle cx="603.7" cy="549.4" r="1.8" fill="#3d8dc4"/><circle cx="607.7" cy="548.1" r="1.8" fill="#3181bd"/><circle cx="611.6" cy="561.5" r="1.8" fill="#2474b7"/><circle cx="615.5" cy="570.2" r="1.8" fill="#1c68ae"/><circle cx="619.5" cy="574.2" r="1.8" fill="#135fa7"/><circle cx="623.7" cy="577.8" r="1.8" fill="#0d539a"/><circle cx="627.6" cy="578.1" r="1.8" fill="#08488e"/><circle cx="631.5" cy="582.8" r="1.8" fill="#083d7f"/><circle cx="635.5" cy="584.7" r="1.8" fill="#08306b"/>
</g>
<g transform="translate(290,0)">
<circle cx="548.4" cy="566.3" r="1.8" fill="#e8f1fa"/><circle cx="552.6" cy="561" r="1.8" fill="#deebf7"/><circle cx="556.3" cy="555.2" r="1.8" fill="#d4e5f4"/><circle cx="560.2" cy="557.3" r="1.8" fill="#cbe0f2"/><circle cx="564.4" cy="569.7" r="1.8" fill="#c6dbef"/><circle cx="568.3" cy="574.2" r="1.8" fill="#bad6eb"/><circle cx="572.3" cy="578.1" r="1.8" fill="#b0d2e8"/><circle cx="576.2" cy="581.3" r="1.8" fill="#a4cce3"/><circle cx="580.1" cy="583.6" r="1.8" fill="#9ac8e0"/><circle cx="584.1" cy="590.7" r="1.8" fill="#8dc1dd"/><circle cx="588" cy="591.8" r="1.8" fill="#7fb9da"/><circle cx="591.9" cy="584.2" r="1.8" fill="#6aaed6"/><circle cx="595.9" cy="572.8" r="1.8" fill="#5ba3d0"/><circle cx="599.8" cy="567.1" r="1.8" fill="#4a98c9"/><circle cx="603.7" cy="549.4" r="1.8" fill="#3d8dc4"/><circle cx="607.7" cy="548.1" r="1.8" fill="#3181bd"/><circle cx="611.6" cy="561.5" r="1.8" fill="#2474b7"/><circle cx="615.5" cy="570.2" r="1.8" fill="#1c68ae"/><circle cx="619.5" cy="574.2" r="1.8" fill="#135fa7"/><circle cx="623.7" cy="577.8" r="1.8" fill="#0d539a"/><circle cx="627.6" cy="578.1" r="1.8" fill="#08488e"/><circle cx="631.5" cy="582.8" r="1.8" fill="#083d7f"/><circle cx="635.5" cy="584.7" r="1.8" fill="#08306b"/>
</g>
<g fill="#f08c3c">
<circle cx="693" cy="551.8" r="1.8" fill="#fde0c5"/><circle cx="697.2" cy="549.2" r="1.8" fill="#fdd4ae"/><circle cx="701.7" cy="547.8" r="1.8" fill="#fdc692"/><circle cx="706" cy="549.2" r="1.8" fill="#fdb677"/><circle cx="710.2" cy="551" r="1.8" fill="#fda55e"/><circle cx="714.4" cy="556.3" r="1.8" fill="#fd9446"/><circle cx="718.6" cy="560.5" r="1.8"/><circle cx="722.8" cy="565.7" r="1.8"/><circle cx="727" cy="571.5" r="1.8"/><circle cx="731.2" cy="576.8" r="1.8" fill="#e9671c"/><circle cx="735.4" cy="580.7" r="1.8" fill="#e05c14"/><circle cx="739.6" cy="584.7" r="1.8" fill="#d9530f"/><circle cx="743.8" cy="586.5" r="1.8" fill="#d04a0b"/><circle cx="748.1" cy="588.1" r="1.8" fill="#c54207"/><circle cx="752.3" cy="589.4" r="1.8" fill="#b93b05"/><circle cx="756.5" cy="590.5" r="1.8" fill="#ad3603"/><circle cx="760.7" cy="591.3" r="1.8" fill="#a03103"/><circle cx="764.9" cy="590.5" r="1.8" fill="#952d03"/><circle cx="769.1" cy="585.2" r="1.8" fill="#8a2903"/><circle cx="777.5" cy="583" r="1.8" fill="#7f2704"/>
</g>
<g fill="#2ca25f">
<circle cx="689.1" cy="558.4" r="1.8" fill="#e5f5e0"/><circle cx="693.3" cy="571.5" r="1.8" fill="#d9f0d3"/><circle cx="697.5" cy="576.8" r="1.8" fill="#c7e9c0"/><circle cx="701.7" cy="586" r="1.8" fill="#b6e2ae"/><circle cx="705.9" cy="590.5" r="1.8" fill="#a1d99b"/><circle cx="710.1" cy="592.1" r="1.8" fill="#8ed08b"/><circle cx="714.4" cy="589.4" r="1.8" fill="#7bc87c"/><circle cx="718.6" cy="584.7" r="1.8" fill="#66bd6f"/><circle cx="722.8" cy="578.9" r="1.8" fill="#52b365"/><circle cx="727" cy="571.5" r="1.8" fill="#41ab5d"/><circle cx="731.2" cy="561.5" r="1.8"/><circle cx="735.4" cy="555.2" r="1.8"/><circle cx="739.6" cy="549.2" r="1.8" fill="#238b45"/><circle cx="743.8" cy="547.8" r="1.8" fill="#1d8640"/><circle cx="748.1" cy="552.6" r="1.8" fill="#137d39"/><circle cx="752.3" cy="561" r="1.8" fill="#0a7633"/><circle cx="756.5" cy="570.7" r="1.8" fill="#006d2c"/><circle cx="760.7" cy="576.8" r="1.8" fill="#006428"/><circle cx="764.9" cy="579.9" r="1.8" fill="#005a24"/><circle cx="769.1" cy="589.2" r="1.8" fill="#005020"/><circle cx="777.5" cy="589.2" r="1.8" fill="#00441b"/>
</g>
<g fill="#807dba">
<circle cx="697.5" cy="564.2" r="1.8" fill="#e7e6f2"/><circle cx="701.7" cy="580" r="1.8" fill="#dcdcec"/><circle cx="705.9" cy="586.8" r="1.8" fill="#d0d1e6"/><circle cx="710.1" cy="586" r="1.8" fill="#c2c3df"/><circle cx="714.4" cy="584.7" r="1.8" fill="#b5b5d8"/><circle cx="718.6" cy="575.5" r="1.8" fill="#a8a6cf"/><circle cx="722.8" cy="567.6" r="1.8" fill="#9e9ac8"/><circle cx="727" cy="559.7" r="1.8" fill="#938dc2"/><circle cx="731.2" cy="558.4" r="1.8"/><circle cx="735.4" cy="559.7" r="1.8"/><circle cx="739.6" cy="566.3" r="1.8" fill="#7668ae"/><circle cx="743.8" cy="575.5" r="1.8" fill="#6d59a6"/><circle cx="748.1" cy="582.1" r="1.8" fill="#6a51a3"/><circle cx="752.3" cy="583.4" r="1.8" fill="#61409b"/><circle cx="756.5" cy="580.7" r="1.8" fill="#593093"/><circle cx="760.7" cy="577.3" r="1.8" fill="#54278f"/><circle cx="764.9" cy="570.2" r="1.8" fill="#4d1a89"/><circle cx="769.1" cy="565" r="1.8" fill="#470e83"/><circle cx="777.5" cy="573.4" r="1.8" fill="#3f007d"/>
</g>
<rect x="633" y="543" width="5" height="56" fill="none" stroke="#c00000" stroke-width="0.9"/>
<rect x="770" y="543" width="5.5" height="56" fill="none" stroke="#f4b183" stroke-width="0.9"/>
<rect x="775.5" y="543" width="5.5" height="56" fill="none" stroke="#c00000" stroke-width="0.9"/>
<path d="M635,543V513H778V542" fill="none" stroke="#4472c4" stroke-width="1" marker-end="url(#ar)"/>
<circle cx="761" cy="513" r="3.3" fill="#fff" stroke="#4472c4" stroke-width="0.9"/>
<path d="M757.7,513H764.3M761,509.7V516.3" stroke="#4472c4" stroke-width="0.8"/>
<path d="M772,543V524H761V517" fill="none" stroke="#4472c4" stroke-width="0.9" marker-end="url(#ar)"/>
<path d="M878,515C840,518 820,528 818,562" fill="none" stroke="#4472c4" stroke-width="1" marker-end="url(#ar)"/>
<polygon points="664,564 684,564 684,560 690,570.5 684,581 684,577 664,577" fill="#4472c4"/>
<text x="668" y="573.5" font-size="7" fill="#fff" font-family="DejaVu Sans, sans-serif">LPU</text>
<polygon points="806,566 830,566 830,562 837,572.5 830,583 830,579 806,579" fill="#4472c4"/>
<text x="809" y="575.5" font-size="7" fill="#fff" font-family="DejaVu Sans, sans-serif">LPU_R</text>
<text x="699" y="509" font-size="10.5" font-style="italic" text-anchor="middle">BX<tspan font-size="7" dy="2">t</tspan></text>
<text x="701" y="524" font-size="10" font-style="italic" text-anchor="middle">B ∈ ℝ<tspan font-size="6.5" dy="-4">N</tspan></text>
<text x="756" y="537" font-size="10" font-style="italic" text-anchor="middle">AC<tspan font-size="6.5" dy="2">t−1</tspan></text>
<text x="781" y="537" font-size="10" font-style="italic">A ∈ ℝ<tspan font-size="6.5" dy="-4">N×N</tspan></text>
<text x="789" y="502" font-size="7.2">Use Legendre Polynomials</text>
<text x="789" y="512" font-size="7.2">to reconstruct:</text>
<rect x="878" y="493" width="72" height="45" fill="#fafafa" stroke="#ddd" stroke-width="0.5"/>
<g fill="none" stroke-width="0.6">
<path d="M880,537L948,495" stroke="#ff7f0e"/>
<path d="M880,520C895,540 905,500 920,520C930,535 940,505 948,495" stroke="#2ca02c"/>
<path d="M880,500C890,530 900,535 912,515C922,500 935,530 948,500" stroke="#d62728"/>
<path d="M880,530C888,500 898,500 906,520C915,538 928,505 936,515C942,525 946,505 948,497" stroke="#9467bd"/>
<path d="M880,506C886,530 894,520 902,510C912,498 920,530 930,525C938,520 944,500 948,498" stroke="#e377c2"/>
</g>
<text x="603" y="614" font-size="10" text-anchor="middle">Input : <tspan font-style="italic">X</tspan> ∈ ℝ<tspan font-size="6.5" dy="-4" font-style="italic">T×D</tspan></text>
<text x="742" y="614" font-size="10" text-anchor="middle">Coefficient : <tspan font-style="italic">C</tspan> ∈ ℝ<tspan font-size="6.5" dy="-4" font-style="italic">T×D×N</tspan></text>
<text x="897" y="614" font-size="10" text-anchor="middle">Reconstruct : <tspan font-style="italic">X</tspan> ∈ ℝ<tspan font-size="6.5" dy="-4" font-style="italic">T×D</tspan></text>

<!-- FEL figure -->
<text x="724.5" y="756" font-size="8" fill="#c55a11" text-anchor="middle" font-family="Liberation Sans, sans-serif">W</text>
<rect x="694" y="757" width="62" height="61" fill="#fff" stroke="#f4b183" stroke-width="1.5"/>
<g stroke="#c55a11" stroke-width="0.5" fill="#f4b183">
<polygon points="697,763 700,760 751,760 748,763"/><rect x="697" y="763" width="51" height="13"/><polygon points="748,763 751,760 751,773 748,776" fill="#e39b6a"/>
<polygon points="697,782 700,779 751,779 748,782"/><rect x="697" y="782" width="51" height="13"/><polygon points="748,782 751,779 751,792 748,795" fill="#e39b6a"/>
<polygon points="697,801 700,798 751,798 748,801"/><rect x="697" y="801" width="51" height="13"/><polygon points="748,801 751,798 751,811 748,814" fill="#e39b6a"/>
</g>
<g font-size="8" font-style="italic">
<text x="699" y="773">W<tspan font-size="5" dy="2">1</tspan><tspan dy="-2"> ∈ ℂ</tspan><tspan font-size="5.5" dy="-3">M′×N′×N′</tspan></text>
<text x="699" y="792">W<tspan font-size="5" dy="2">2</tspan><tspan dy="-2"> ∈ ℂ</tspan><tspan font-size="5.5" dy="-3">N′×N</tspan></text>
<text x="699" y="811">W<tspan font-size="5" dy="2">3</tspan><tspan dy="-2"> ∈ ℂ</tspan><tspan font-size="5.5" dy="-3">N′×N</tspan></text>
</g>
<g font-size="7">
<text x="762" y="768">Use low-rank</text><text x="762" y="778">approximation to</text><text x="762" y="787.5">compress W.</text><text x="762" y="797">Take N' &lt;&lt; N</text>
</g>
<text x="758" y="811" font-size="9" font-style="italic">W = W<tspan font-size="6" dy="2">1</tspan><tspan dy="-2"> · W</tspan><tspan font-size="6" dy="2">2</tspan><tspan dy="-2"> · W</tspan><tspan font-size="6" dy="2">3</tspan></text>
<text x="612" y="767" font-size="8.5" text-anchor="end">Input:</text>
<text x="612" y="782" font-size="8.5" text-anchor="end">For each channel:</text>
<text x="617" y="767" font-size="8.5" font-style="italic">X<tspan font-size="6" dy="2">multi</tspan><tspan dy="-2"> ∈ ℝ</tspan><tspan font-size="6" dy="-3">T×D×N</tspan></text>
<text x="617" y="782" font-size="8.5" font-style="italic">X<tspan font-size="6" dy="2">uni</tspan><tspan dy="-2"> ∈ ℝ</tspan><tspan font-size="6" dy="-3">T×1×N</tspan></text>
<line x1="613" y1="755" x2="613" y2="787" stroke="#4472c4" stroke-width="1.2" marker-end="url(#ar)"/>
<g stroke="#4472c4" stroke-width="0.6">
<polygon points="556,798 566,788 648,788 638,798" fill="#cfe0f2"/><rect x="556" y="798" width="82" height="29" fill="#bdd7ee"/><polygon points="638,798 648,788 648,817 638,827" fill="#8faac5"/>
<polygon points="865,798 875,788 957,788 947,798" fill="#cfe0f2"/><rect x="865" y="798" width="82" height="29" fill="#bdd7ee"/><polygon points="947,798 957,788 957,817 947,827" fill="#8faac5"/>
</g>
<g stroke="#4472c4" stroke-width="0.6">
<polygon points="556,853 566,843 648,843 638,853" fill="#d5e8c8"/><rect x="556" y="853" width="82" height="30" fill="#c5e0b4"/><polygon points="638,853 648,843 648,873 638,883" fill="#9bb28b"/>
<polygon points="690,853 700,843 752,843 742,853" fill="#d5e8c8"/><rect x="690" y="853" width="52" height="30" fill="#c5e0b4"/><polygon points="742,853 752,843 752,873 742,883" fill="#9bb28b"/>
<polygon points="772,853 782,843 834,843 824,853" fill="#d5e8c8"/><rect x="772" y="853" width="52" height="30" fill="#c5e0b4"/><polygon points="824,853 834,843 834,873 824,883" fill="#9bb28b"/>
<polygon points="868,853 878,843 960,843 950,853" fill="#d5e8c8"/><rect x="868" y="853" width="82" height="30" fill="#c5e0b4"/><polygon points="950,853 960,843 960,873 950,883" fill="#9bb28b"/>
</g>
<g font-size="8.5">
<text x="560" y="810">Input: <tspan font-style="italic">X ∈ ℝ</tspan><tspan font-size="6" dy="-3" font-style="italic">T×N</tspan></text>
<text x="597" y="823" text-anchor="middle">Time domain</text>
<text x="906" y="810" text-anchor="middle" font-style="italic">Y ∈ ℝ<tspan font-size="6" dy="-3">T×N</tspan></text>
<text x="906" y="823" text-anchor="middle">Time domain</text>
<text x="597" y="866" text-anchor="middle" font-style="italic">X̂ ∈ ℝ<tspan font-size="6" dy="-3">M×N</tspan></text>
<text x="597" y="879" text-anchor="middle">Frequency domain</text>
<text x="716" y="871" text-anchor="middle" font-style="italic">X̂′ ∈ ℂ<tspan font-size="6" dy="-3">M′×N</tspan></text>
<text x="798" y="871" text-anchor="middle" font-style="italic">Ŷ′ ∈ ℂ<tspan font-size="6" dy="-3">M′×N</tspan></text>
<text x="909" y="866" text-anchor="middle" font-style="italic">Ŷ ∈ ℂ<tspan font-size="6" dy="-3">M×N</tspan></text>
<text x="909" y="879" text-anchor="middle">Frequency domain</text>
<text x="599" y="839">FFt</text>
<text x="901" y="839" text-anchor="middle">iFFt</text>
<text x="670" y="859" text-anchor="middle">Sampling</text>
<text x="670" y="873" text-anchor="middle" font-style="italic">M' &lt;&lt; M</text>
<text x="850" y="859" text-anchor="middle">Padding</text>
<text x="901" y="784" text-anchor="end">Output:</text>
<text x="907" y="784" font-style="italic">Y<tspan font-size="6" dy="2">multi</tspan><tspan dy="-2"> ∈ ℝ</tspan><tspan font-size="6" dy="-3">T×D×N</tspan></text>
</g>
<g stroke="#4472c4" stroke-width="1.2" fill="none" marker-end="url(#ar)">
<line x1="597" y1="827" x2="597" y2="843"/>
<line x1="648" y1="863" x2="689" y2="863"/>
<line x1="834" y1="863" x2="867" y2="863"/>
<line x1="912.6" y1="843" x2="912.6" y2="828"/>
<line x1="904" y1="788" x2="904" y2="761"/>
<line x1="752" y1="843" x2="761" y2="836"/>
<line x1="752" y1="818" x2="761" y2="828"/>
<line x1="768" y1="836" x2="776" y2="845"/>
</g>
<circle cx="764.6" cy="832" r="5.3" fill="#ccc" stroke="#000" stroke-width="0.8"/>
<path d="M760.9,828.3L768.3,835.7M768.3,828.3L760.9,835.7" stroke="#000" stroke-width="0.8"/>

<!-- Long-term forecasting plot -->
<g stroke="#000" stroke-width="0.8" fill="none">
<line x1="64.6" y1="708" x2="196" y2="708" marker-end="url(#ak)"/>
<line x1="64.6" y1="708" x2="64.6" y2="634" marker-end="url(#ak)"/>
</g>
<g stroke="#9ab" stroke-width="0.5" stroke-dasharray="2,2">
<line x1="93.5" y1="634" x2="93.5" y2="708"/><line x1="122" y1="634" x2="122" y2="708"/><line x1="150" y1="634" x2="150" y2="708"/><line x1="179" y1="634" x2="179" y2="708"/>
</g>
<path d="M93.5,663C105,663 110,679 122,679C134,679 142,657.6 155,657.6C168,657.6 176,665 185,670" fill="none" stroke="#2a4b8d" stroke-width="0.6" stroke-dasharray="2,1.5"/>
<path d="M179,689L185,693" fill="none" stroke="#2a4b8d" stroke-width="0.6" stroke-dasharray="2,1.5"/>
<g fill="#2a4b8d">
<circle cx="64.6" cy="675.5" r="2"/><circle cx="68.7" cy="671" r="2"/><circle cx="72.8" cy="668" r="2"/><circle cx="77" cy="665.5" r="2"/><circle cx="81.1" cy="664" r="2"/><circle cx="85.2" cy="663.5" r="2"/><circle cx="89.4" cy="663.3" r="2"/><circle cx="93.5" cy="663.3" r="2"/>
<circle cx="64.6" cy="698" r="2"/><circle cx="69.3" cy="695" r="2"/><circle cx="74.2" cy="692" r="2"/><circle cx="78.9" cy="690" r="2"/><circle cx="83.6" cy="688.5" r="2"/><circle cx="88.5" cy="687.7" r="2"/><circle cx="93.2" cy="687.5" r="2"/><circle cx="97.9" cy="688.5" r="2"/><circle cx="102.8" cy="691" r="2"/><circle cx="107.5" cy="694.5" r="2"/><circle cx="112.2" cy="698" r="2"/><circle cx="117.1" cy="701" r="2"/><circle cx="121.8" cy="703" r="2"/><circle cx="126.5" cy="703" r="2"/><circle cx="131.4" cy="700" r="2"/><circle cx="136.1" cy="696.5" r="2"/><circle cx="140.8" cy="692" r="2"/><circle cx="145.7" cy="688" r="2"/><circle cx="150.4" cy="684.5" r="2"/><circle cx="155.1" cy="682" r="2"/><circle cx="160" cy="681" r="2"/><circle cx="164.7" cy="681" r="2"/><circle cx="169.4" cy="682.5" r="2"/><circle cx="174.3" cy="685.5" r="2"/><circle cx="179" cy="689" r="2"/>
</g>
<g font-size="8.5" fill="#111">
<text x="61" y="678.5" text-anchor="end">Short</text><text x="61" y="703" text-anchor="end">Long</text>
<text x="64.6" y="717" text-anchor="middle">0d</text><text x="93.5" y="717" text-anchor="middle">2d</text><text x="122" y="717" text-anchor="middle">4d</text><text x="150" y="717" text-anchor="middle">6d</text><text x="179" y="717" text-anchor="middle">8d</text><text x="202" y="717" text-anchor="middle">Time</text>
</g>
<rect x="149" y="630" width="62" height="22" fill="#fff" stroke="#aaa" stroke-width="0.5"/>
<line x1="152" y1="636" x2="161" y2="636" stroke="#2a4b8d" stroke-width="0.7" stroke-dasharray="1.5,1"/>
<circle cx="156.5" cy="647" r="2" fill="#2a4b8d"/>
<text x="164" y="638.5" font-size="7.5">Ground truth</text><text x="165" y="649.5" font-size="7.5">Prediction</text>

<!-- chart 2 & 3 -->
<g fill="none" stroke="#333" stroke-width="0.4"><rect x="239" y="634.5" width="110" height="70.5"/><rect x="383" y="634.5" width="109" height="70.5"/></g>
<rect x="241" y="636" width="32" height="21" fill="#fff" stroke="#ccc" stroke-width="0.3"/>
<g font-size="3.5" font-family="DejaVu Sans, sans-serif"><text x="249" y="640.5">input</text><text x="249" y="645.5">true</text><text x="249" y="650.5">transformer</text><text x="249" y="655.5">LSTM</text></g>
<g stroke-width="0.6"><line x1="243" y1="639.5" x2="247" y2="639.5" stroke="#1f77b4"/><line x1="243" y1="644.5" x2="247" y2="644.5" stroke="#ff7f0e"/><line x1="243" y1="649.5" x2="247" y2="649.5" stroke="#2ca02c"/><line x1="243" y1="654.5" x2="247" y2="654.5" stroke="#d62728"/></g>
<g fill="none" stroke-width="0.6">
<polyline stroke="#1f77b4" points="244,682 246,676 248,668 250,676 253,680 256,676 258,680 261,676 264,684 267,688 270,684 273,690 276,686 279,684 282,686 285,680 287,674 290,680 293,682 295,684"/>
<polyline stroke="#ff7f0e" points="295,684 298,680 301,684 304,676 307,682 310,678 313,684 316,686 319,682 322,690 325,688 328,692 331,694 334,696 337,700 340,698 343,702 346,702"/>
<polyline stroke="#2ca02c" points="295,672 297,660 300,662 302,652 305,668 307,670 310,672 313,660 315,656 318,672 321,668 324,660 327,674 330,668 333,658 336,672 340,664 343,668 346,676"/>
<polyline stroke="#d62728" points="295,660 298,654 301,650 303,646 306,640 308,650 311,656 314,660 317,650 320,644 322,656 325,660 328,656 331,664 334,658 337,660 340,664 343,666 346,670"/>
<polyline stroke="#1f77b4" points="386,650 388,670 390,690 392,660 394,700 396,648 398,672 400,690 402,640 404,680 406,700 408,660 410,640 412,690 414,650 416,672 418,696 420,640 422,660 424,700 426,650 428,680 430,660 432,700 434,670 436,660"/>
<polyline stroke="#ff7f0e" points="436,660 438,690 440,650 442,700 444,640 446,676 448,698 450,660 452,702 454,650 456,690 458,660 460,680 462,650 464,690 466,668 468,650 470,690 472,665 474,655 476,680 478,660 480,690 482,650 484,660 486,672 488,650 490,660"/>
<polyline stroke="#d62728" points="436,680 440,664 444,676 448,660 452,670 456,668 460,660 464,674 468,664 472,672 476,662 480,672 484,666 488,676 490,670"/>
<polyline stroke="#2ca02c" points="436,668 440,672 444,664 448,674 452,666 456,678 460,668 464,672 468,678 472,664 476,674 480,668 484,680 488,674 490,676"/>
</g>

<!-- Fig 2 plots -->
<g fill="none" stroke="#333" stroke-width="0.4"><rect x="116" y="839" width="110" height="71.5"/><rect x="260" y="839" width="110" height="71.5"/></g>
<g fill="none" stroke-width="0.5">
<polyline stroke="#000" points="117,890 119,895 121,892 123,898 125,893 127,897 129,889 131,878 133,890 135,874 137,884 139,870 141,888 143,876 145,866 147,880 149,862 151,872 153,860 155,875 157,870 159,892 161,880 163,870 165,860 167,885 169,880 171,870 173,864 175,870 177,860 179,872 181,866 183,878 185,862 187,870 189,872 191,858 193,866 195,860 197,868 199,865 201,862 203,866 205,862 207,870 209,866 211,874 213,868 215,864 217,870 219,874 221,868 223,876 225,879"/>
<polyline stroke="#e00" stroke-width="0.8" points="117,884 120,892 124,896 128,892 131,882 134,880 137,876 140,878 143,872 146,870 149,870 152,868 155,868 157,880 159,900 161,880 164,868 167,876 170,885 173,870 176,862 179,868 182,874 185,866 188,864 191,866 194,860 197,868 200,866 203,862 206,866 209,866 212,870 215,868 218,866 221,870 224,876"/>
<polyline stroke="#000" points="262,890 264,898 266,886 268,894 270,880 272,896 274,884 276,876 278,890 280,870 282,884 284,878 286,862 288,880 290,870 292,858 294,874 296,888 298,870 300,862 302,872 304,864 306,880 308,884 310,868 312,872 314,858 316,868 318,876 320,862 322,856 324,872 326,862 328,858 330,868 332,860 334,854 336,866 338,858 340,860 342,868 344,856 346,866 348,858 350,864 352,862 354,854 356,866 358,860 360,862 362,866 364,858 366,866 368,870"/>
<polyline stroke="#ff9933" points="262,884 264,892 266,878 268,890 270,886 272,880 274,892 276,884 278,878 280,890 282,876 284,884 286,878 288,870 290,882 292,874 294,880 296,868 298,876 300,870 302,874 304,882 306,872 308,868 310,876 312,870 314,862 316,872 318,866 320,860 322,870 324,858 326,866 328,862 330,856 332,868 334,860 336,864 338,856 340,866 342,858 344,864 346,856 348,866 350,860 352,856 354,866 356,858 358,864 360,860 362,856 364,864 366,858 368,864"/>
<polyline stroke="#3a7fc1" points="262,884 266,882 270,884 274,880 278,882 282,878 286,874 290,872 294,870 298,872 302,876 306,874 310,870 314,866 318,866 322,864 326,864 330,862 334,862 338,862 342,860 346,862 350,860 354,860 358,861 362,860 366,862 368,862"/>
</g>

<!-- LPU plug-in figure -->
<g fill="none" stroke="#222" stroke-width="0.6">
<rect x="1145" y="532" width="40" height="41"/><path d="M1145,532L1155,522H1196V563L1185,573M1185,532L1196,522M1155,522V532"/>
<rect x="1238" y="530" width="16" height="43"/><path d="M1238,530L1245,522H1261V565L1254,573M1254,530L1261,522"/>
<rect x="1299" y="542" width="30" height="31"/><path d="M1299,542L1306,534H1336V565L1329,573M1329,542L1336,534"/>
<rect x="1077" y="618" width="28" height="30"/><path d="M1077,618L1084,610H1112V640L1105,648M1105,618L1112,610"/>
<rect x="1145" y="609" width="40" height="41"/><path d="M1145,609L1155,598H1196V639L1185,650M1185,609L1196,598"/>
<rect x="1251" y="599" width="16" height="43"/><path d="M1251,599L1258,591H1274V634L1267,642M1267,599L1274,591"/>
<rect x="1305" y="612" width="30" height="31"/><path d="M1305,612L1312,604H1343V635L1335,643M1335,612L1343,604"/>
</g>
<g fill="none" stroke-width="0.6">
<path d="M1146,550C1150,580 1155,580 1158,545C1161,525 1165,570 1170,570C1175,570 1176,530 1184,548" stroke="#ff7f0e"/>
<path d="M1150,545C1156,560 1160,530 1166,540C1172,555 1178,528 1190,530" stroke="#2ca02c"/>
<path d="M1160,528C1165,540 1170,522 1178,530C1185,536 1190,524 1195,528" stroke="#d62728"/>
<path d="M1146,627C1150,657 1155,657 1158,622C1161,602 1165,647 1170,647C1175,647 1176,607 1184,625" stroke="#ff7f0e"/>
<path d="M1150,622C1156,637 1160,607 1166,617C1172,632 1178,605 1190,607" stroke="#2ca02c"/>
<path d="M1160,605C1165,617 1170,599 1178,607C1185,613 1190,601 1195,605" stroke="#d62728"/>
<polyline stroke="#1f77b4" points="1078,630 1080,640 1082,622 1084,638 1086,624 1088,640 1090,620 1092,636 1094,626 1096,640 1098,622 1100,634 1102,626 1104,632"/>
<polyline stroke="#1f77b4" points="1300,560 1303,566 1306,558 1309,562 1312,554 1315,556 1317,546 1319,552 1321,546 1323,556 1326,554 1328,560"/>
<polyline stroke="#1f77b4" points="1306,630 1309,636 1312,628 1315,632 1318,624 1321,626 1323,616 1325,622 1327,616 1329,626 1332,624 1334,630"/>
</g>
<circle cx="1249" cy="543" r="1.3" fill="#2ca02c"/><circle cx="1257" cy="547" r="1.3" fill="#e00"/><circle cx="1246" cy="558" r="1.3" fill="#f4a582"/>
<circle cx="1262" cy="612" r="1.3" fill="#2ca02c"/><circle cx="1270" cy="616" r="1.3" fill="#e00"/><circle cx="1259" cy="627" r="1.3" fill="#f4a582"/>
<g fill="#4472c4">
<polygon points="1198,537 1230,537 1230,533 1237,545 1230,557 1230,553 1198,553"/>
<polygon points="1263,539 1290,539 1290,536 1297,546 1290,556 1290,553 1263,553"/>
<polygon points="1115,623 1135,623 1135,619 1142,629.5 1135,640 1135,636 1115,636"/>
<polygon points="1199,607 1239,607 1239,604 1246,613 1239,622 1239,619 1199,619"/>
<polygon points="1274,608 1296,608 1296,605 1303,614 1296,623 1296,620 1274,620"/>
<polygon points="1166,598 1166,586 1162,586 1172.5,579 1183,586 1179,586 1179,598"/>
</g>
<g fill="#fff" font-size="4.6" font-family="DejaVu Sans, sans-serif">
<text x="1201" y="543.5">Take the last</text><text x="1210" y="549.5">slice</text>
<text x="1271" y="548">LPU_R</text><text x="1119" y="631.5">LPU</text><text x="1202" y="615">Neural Networks</text><text x="1280" y="616.5">LPU_R</text>
<text x="1175" y="594" transform="rotate(-90 1175 594)">FEL</text>
</g>
<g font-size="4.6">
<text x="1153" y="579">Temporal (t=T)</text><text x="1236" y="579">Temporal (t=1)</text><text x="1302" y="579">Temporal (t=T)</text>
<text x="1080" y="654">Temporal (t=T)</text><text x="1152" y="656">Temporal (t=T)</text><text x="1251" y="645">Temporal (t=1)</text><text x="1309" y="649">Temporal (t=T)</text>
<text x="1199" y="625">Use any NN (MLP,</text><text x="1199" y="631">LSTM, CNN, Attention</text><text x="1199" y="637">...) to generate a slice-</text><text x="1199" y="643">shaped matrix.</text>
<text x="1187" y="520" transform="rotate(-50 1187 520)">Channel (C=N)</text><text x="1250" y="520" transform="rotate(-50 1250 520)">Channel (C=N)</text><text x="1324" y="530" transform="rotate(-50 1324 530)">Channel (C=1)</text>
<text x="1103" y="607" transform="rotate(-50 1103 607)">Channel (C=1)</text><text x="1187" y="596" transform="rotate(-50 1187 596)">Channel (C=N)</text><text x="1264" y="589" transform="rotate(-50 1264 589)">Channel (C=N)</text><text x="1332" y="600" transform="rotate(-50 1332 600)">Channel (C=1)</text>
</g>

<!-- efficiency scatter -->
<g stroke="#ccc" stroke-width="0.5">
<line x1="1154" y1="814" x2="1154" y2="983"/><line x1="1194" y1="814" x2="1194" y2="983"/><line x1="1234" y1="814" x2="1234" y2="983"/><line x1="1274" y1="814" x2="1274" y2="983"/><line x1="1314" y1="814" x2="1314" y2="983"/><line x1="1354" y1="814" x2="1354" y2="983"/>
<line x1="1114" y1="972" x2="1374" y2="972"/><line x1="1114" y1="949.4" x2="1374" y2="949.4"/><line x1="1114" y1="926.9" x2="1374" y2="926.9"/><line x1="1114" y1="904.3" x2="1374" y2="904.3"/><line x1="1114" y1="881.7" x2="1374" y2="881.7"/><line x1="1114" y1="859.2" x2="1374" y2="859.2"/><line x1="1114" y1="836.6" x2="1374" y2="836.6"/>
</g>
<rect x="1114" y="814" width="260" height="169" fill="none" stroke="#222" stroke-width="0.7"/>
<g font-family="DejaVu Sans, sans-serif" font-size="7.2" fill="#111">
<text x="1114" y="994" text-anchor="middle">0</text><text x="1154" y="994" text-anchor="middle">1</text><text x="1194" y="994" text-anchor="middle">2</text><text x="1234" y="994" text-anchor="middle">3</text><text x="1274" y="994" text-anchor="middle">4</text><text x="1314" y="994" text-anchor="middle">5</text><text x="1354" y="994" text-anchor="middle">6</text>
<text x="1109" y="974.5" text-anchor="end">0</text><text x="1109" y="952" text-anchor="end">1</text><text x="1109" y="929.4" text-anchor="end">2</text><text x="1109" y="906.8" text-anchor="end">3</text><text x="1109" y="884.2" text-anchor="end">4</text><text x="1109" y="861.7" text-anchor="end">5</text><text x="1109" y="839.1" text-anchor="end">6</text><text x="1109" y="816.5" text-anchor="end">7</text>
<text x="1244" y="1004" text-anchor="middle">Relative Training Speed</text>
<text x="1099" y="898" text-anchor="middle" transform="rotate(-90 1099 898)">Relative Score (Score=1/MSE)</text>
</g>
<circle cx="1154" cy="948.3" r="20" fill="#8c564b" fill-opacity="0.95"/>
<circle cx="1186" cy="947.2" r="19" fill="#9467bd" fill-opacity="0.85"/>
<circle cx="1250" cy="949.4" r="23" fill="#e377c2" fill-opacity="0.95"/>
<circle cx="1170.8" cy="859" r="8" fill="#d62728"/>
<circle cx="1182" cy="852.4" r="2.8" fill="#2ca02c"/>
<circle cx="1172" cy="830.9" r="3.3" fill="#1f77b4"/>
<circle cx="1352" cy="829.8" r="3.3" fill="#ff7f0e"/>
<g font-family="DejaVu Sans, sans-serif" font-size="7.2" fill="#111">
<text x="1174" y="832.5">FiLM</text><text x="1352" y="832">FiLM-256</text><text x="1180" y="852">FEDformer</text><text x="1170" y="859">Autoformer</text>
<text x="1184" y="944">Informer</text><text x="1154" y="950.5">LogTrans</text><text x="1250" y="951">Transformer</text>
</g>

<!-- QR -->
<rect x="1432" y="932" width="85" height="85" fill="url(#qr)"/>
<g fill="#000">
<rect x="1425" y="925" width="20" height="20" rx="3"/><rect x="1504" y="925" width="20" height="20" rx="3"/><rect x="1425" y="1005" width="20" height="20" rx="3"/>
</g>
<g fill="#fff">
<rect x="1428" y="928" width="14" height="14" rx="2"/><rect x="1507" y="928" width="14" height="14" rx="2"/><rect x="1428" y="1008" width="14" height="14" rx="2"/>
<rect x="1446" y="925" width="6" height="22"/><rect x="1425" y="946" width="22" height="6"/><rect x="1497" y="925" width="6" height="22"/><rect x="1502" y="946" width="22" height="6"/><rect x="1425" y="998" width="22" height="6"/><rect x="1446" y="998" width="6" height="27"/>
<rect x="1462" y="963" width="26" height="26"/>
</g>
<g fill="#000">
<rect x="1431" y="931" width="8" height="8" rx="1.5"/><rect x="1510" y="931" width="8" height="8" rx="1.5"/><rect x="1431" y="1011" width="8" height="8" rx="1.5"/>
<path d="M1478,965h8v6h-4v2h4v2h-6v3h-3v4h-2v3h-2v-3h-1v3h-2v-4h-2v-3h-2v-4h2v2h3v-2h2v-3h3z"/>
</g>
</svg>
</div></body></html>
